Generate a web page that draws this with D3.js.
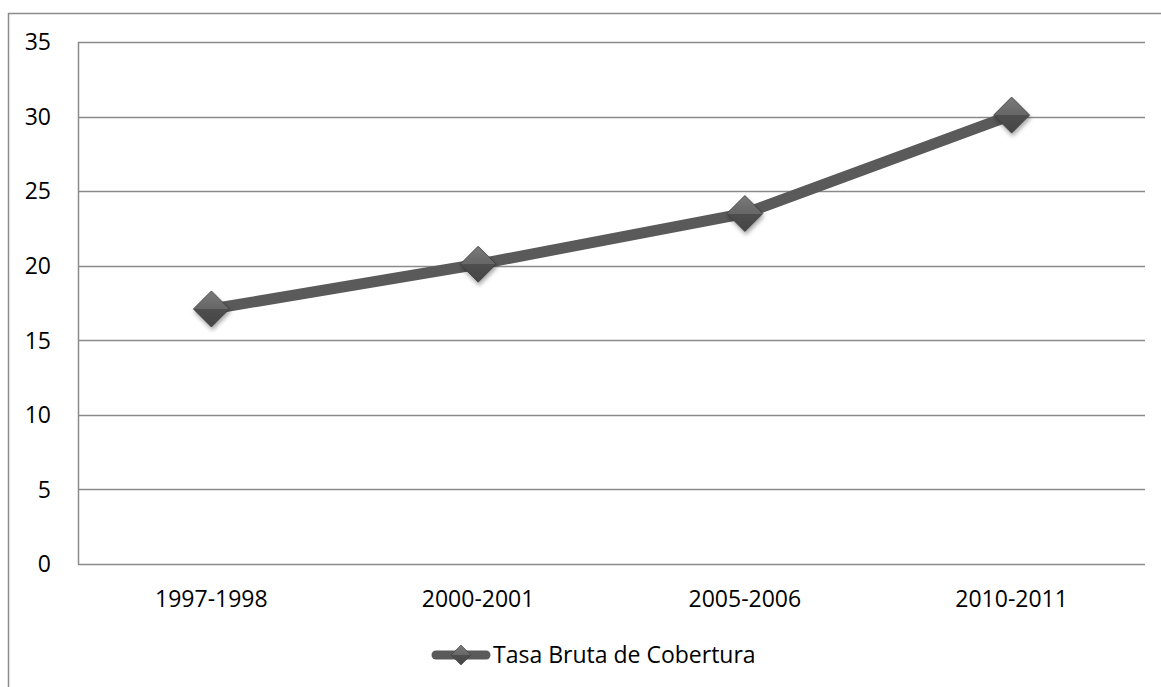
<!DOCTYPE html>
<html><head><meta charset="utf-8">
<script src="https://cdn.jsdelivr.net/npm/d3@7"></script>
<style>body{margin:0;background:#fff}svg{display:block}text{font-family:"Open Sans","Noto Sans",sans-serif;fill:#000}</style>
</head><body>
<script>
const categories = ["1997-1998","2000-2001","2005-2006","2010-2011"];
const values = [17.1, 20.1, 23.5, 30.1];
const yTicks = [0,5,10,15,20,25,30,35];
const seriesName = "Tasa Bruta de Cobertura";

const W=1161,H=687,FS=23;
const svg=d3.select("body").append("svg").attr("width",W).attr("height",H);
const defs=svg.append("defs");
const g1=defs.append("linearGradient").attr("id","dia").attr("x1",0).attr("y1",0).attr("x2",0).attr("y2",1);
g1.append("stop").attr("offset","0%").attr("stop-color","#7a7a7a");
g1.append("stop").attr("offset","50%").attr("stop-color","#666");
g1.append("stop").attr("offset","50%").attr("stop-color","#4f4f4f");
g1.append("stop").attr("offset","100%").attr("stop-color","#444");
const f=defs.append("filter").attr("id","sh").attr("x","-50%").attr("y","-50%").attr("width","200%").attr("height","200%");
f.append("feDropShadow").attr("dx",1).attr("dy",3).attr("stdDeviation",2).attr("flood-color","#000").attr("flood-opacity",0.35);

svg.append("path").attr("d",`M8.5,${H}V13.5H${W}`).attr("fill","none").attr("stroke","#8c8c8c").attr("stroke-width",1.5);

const L=78,R=1145,T=42,B=564;
const x=d3.scaleBand().domain(categories).range([L,R]);
const y=d3.scaleLinear().domain([0,35]).range([B,T]);

svg.append("g").selectAll("line").data(yTicks).join("line")
 .attr("x1",L).attr("x2",R).attr("y1",d=>Math.round(y(d))+0.5).attr("y2",d=>Math.round(y(d))+0.5)
 .attr("stroke","#8a8a8a").attr("stroke-width",1.5);
svg.append("line").attr("x1",L+0.5).attr("x2",L+0.5).attr("y1",T).attr("y2",B+0.5).attr("stroke","#8a8a8a").attr("stroke-width",1.5);

svg.append("g").selectAll("text").data(yTicks).join("text")
 .attr("x",51).attr("y",d=>y(d)).attr("dy","0.36em").attr("text-anchor","end").attr("font-size",FS).text(d=>d);
svg.append("g").selectAll("text").data(categories).join("text")
 .attr("x",d=>x(d)+x.bandwidth()/2).attr("y",607).attr("text-anchor","middle").attr("font-size",FS).text(d=>d);

const cx=(d,i)=>x(categories[i])+x.bandwidth()/2;
svg.append("path").datum(values).attr("fill","none").attr("stroke","#5a5a5a").attr("stroke-width",11)
 .attr("d",d3.line().x((d,i)=>cx(d,i)).y(d=>y(d)));
const dia=s=>`M0,${-s}L${s},0L0,${s}L${-s},0Z`;
svg.append("g").selectAll("path").data(values).join("path")
 .attr("transform",(d,i)=>`translate(${cx(d,i)},${y(d)})`).attr("d",dia(18))
 .attr("fill","url(#dia)").attr("stroke","#3a3a3a").attr("stroke-width",0.8).attr("filter","url(#sh)");

// legend
const ly=655;
svg.append("line").attr("x1",436).attr("x2",486).attr("y1",ly).attr("y2",ly).attr("stroke","#5a5a5a").attr("stroke-width",9).attr("stroke-linecap","round");
svg.append("path").attr("transform",`translate(461,${ly})`).attr("d",dia(10)).attr("fill","url(#dia)").attr("stroke","#3a3a3a").attr("stroke-width",0.6);
svg.append("text").attr("x",493).attr("y",663).attr("font-size",FS).text(seriesName);
</script>
</body></html>
